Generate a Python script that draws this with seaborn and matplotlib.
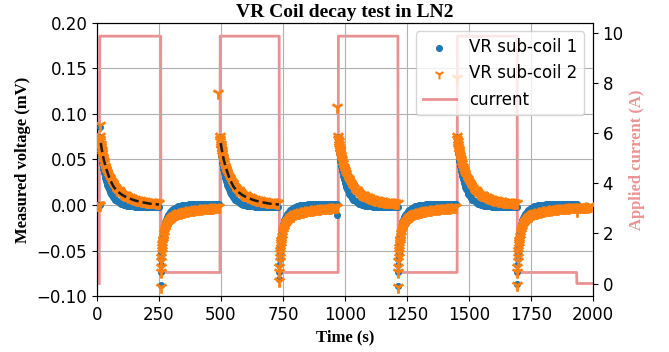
import numpy as np
import pandas as pd
import seaborn as sns
import matplotlib
matplotlib.use('Agg')
import matplotlib.pyplot as plt

# switching edges of the applied current (s)
rise_times = [12, 496, 973, 1453]
fall_times = [257, 735, 1214, 1695]
coil1_end = 1940
coil2_end = 2001

# applied current (A)
current_t = [9, 11, 257, 258, 496, 497, 735, 736, 973, 974, 1214, 1215,
             1453, 1454, 1695, 1696, 1935, 1936, 2000]
current_a = [0.0, 9.87, 9.87, 0.44, 0.44, 9.87, 9.87, 0.44, 0.44, 9.87, 9.87, 0.44,
             0.44, 9.87, 9.87, 0.44, 0.44, 0.0, 0.0]

# sample times after each edge (s): 1 s, then 2 s, 3 s and 5 s apart
decay_offsets = (list(range(0, 10)) + list(range(10, 31, 2))
                 + list(range(33, 61, 3)) + list(range(65, 301, 5)))

# decay (mV), one value per offset
pos_coil1 = [0.075, 0.071, 0.067, 0.063, 0.060, 0.057, 0.054, 0.052, 0.050, 0.048,
             0.046, 0.043, 0.040, 0.037, 0.035, 0.032, 0.030, 0.028, 0.026, 0.024, 0.022,
             0.020, 0.018, 0.016, 0.014, 0.0125, 0.011, 0.0095, 0.0085, 0.0072, 0.006,
             0.005, 0.004, 0.003, 0.0022, 0.0015, 0.001, 0.0005, 0.0,
             -0.0004, -0.0007, -0.001, -0.0012, -0.0014, -0.0015, -0.0016, -0.0017,
             -0.0018, -0.0018, -0.0019, -0.0019, -0.002, -0.002, -0.002, -0.002,
             -0.002, -0.002, -0.002, -0.002, -0.002, -0.002, -0.002, -0.002,
             -0.002, -0.002, -0.002, -0.002, -0.002, -0.002, -0.002, -0.002,
             -0.002, -0.002, -0.002, -0.002, -0.002, -0.002, -0.002, -0.002]
pos_coil2 = [0.076, 0.073, 0.070, 0.067, 0.065, 0.063, 0.061, 0.060, 0.058, 0.057,
             0.055, 0.053, 0.050, 0.048, 0.046, 0.043, 0.042, 0.040, 0.038, 0.036, 0.035,
             0.033, 0.031, 0.030, 0.028, 0.026, 0.025, 0.024, 0.022, 0.021, 0.020,
             0.019, 0.017, 0.016, 0.015, 0.013, 0.012, 0.0115, 0.011,
             0.0105, 0.010, 0.009, 0.0085, 0.008, 0.0075, 0.007, 0.0065,
             0.006, 0.0057, 0.0054, 0.005, 0.0047, 0.0045, 0.0043, 0.004,
             0.0038, 0.0037, 0.0035, 0.0034, 0.0032, 0.003, 0.0029, 0.0028,
             0.0027, 0.0026, 0.0025, 0.0025, 0.0024, 0.0024, 0.0023, 0.0023,
             0.0022, 0.0022, 0.0021, 0.0021, 0.002, 0.002, 0.002, 0.002]
neg_coil1 = [-0.074, -0.066, -0.059, -0.053, -0.048, -0.044, -0.040, -0.037, -0.034, -0.032,
             -0.030, -0.026, -0.023, -0.021, -0.019, -0.017, -0.016, -0.0145, -0.013, -0.012, -0.011,
             -0.0095, -0.0085, -0.0075, -0.0065, -0.006, -0.0052, -0.0045, -0.004, -0.0034, -0.0028,
             -0.0022, -0.0016, -0.0011, -0.0007, -0.0003, 0.0, 0.0002, 0.0003,
             0.0004, 0.0005, 0.0006, 0.0007, 0.0008, 0.0008, 0.0009, 0.0009,
             0.001, 0.001, 0.001, 0.001, 0.001, 0.001, 0.001, 0.001,
             0.001, 0.001, 0.001, 0.001, 0.001, 0.001, 0.001, 0.001,
             0.001, 0.001, 0.001, 0.001, 0.001, 0.001, 0.001, 0.001,
             0.001, 0.001, 0.001, 0.001, 0.001, 0.001, 0.001, 0.001]
neg_coil2 = [-0.074, -0.068, -0.062, -0.057, -0.053, -0.049, -0.046, -0.043, -0.041, -0.039,
             -0.037, -0.034, -0.031, -0.029, -0.027, -0.025, -0.024, -0.023, -0.021, -0.020, -0.019,
             -0.0175, -0.0165, -0.0155, -0.014, -0.0135, -0.013, -0.0125, -0.012, -0.011, -0.010,
             -0.0095, -0.009, -0.0087, -0.0083, -0.008, -0.0075, -0.0072, -0.0068,
             -0.0065, -0.0062, -0.006, -0.0057, -0.0055, -0.0052, -0.005, -0.0048,
             -0.0046, -0.0044, -0.0042, -0.004, -0.0039, -0.0037, -0.0036, -0.0035,
             -0.0034, -0.0032, -0.0031, -0.003, -0.0029, -0.0028, -0.0027, -0.0026,
             -0.0025, -0.0024, -0.0023, -0.0022, -0.0021, -0.002, -0.002, -0.0019,
             -0.0019, -0.0018, -0.0018, -0.0017, -0.0017, -0.0016, -0.0016, -0.0015]

# points before the first pulse
pre_t = [1, 3, 5, 7, 9, 11]
pre_coil1 = [0.0, 0.0, 0.0, 0.0, 0.0, 0.0]
pre_coil2 = [0.0, 0.0, 0.0, 0.0, 0.0, 0.0]

# stray points
coil1_extra_t = [12, 258, 736, 1214, 1695, 968]
coil1_extra_v = [0.086, -0.088, -0.081, -0.089, -0.087, -0.011]
coil2_extra_t = [14, 490, 970, 1453, 258, 736, 1214, 1695, 1936]
coil2_extra_v = [0.088, 0.123, 0.108, 0.140, -0.090, -0.083, -0.090, -0.088, -0.007]

# exponential fit shown on the first two pulses
fit_offsets = [3, 8, 15, 25, 40, 55, 70, 90, 110, 140, 170, 200, 238]
fit_values = [0.068, 0.060, 0.050, 0.040, 0.028, 0.020, 0.015, 0.011, 0.008,
              0.005, 0.003, 0.0015, 0.0005]
fit_pulses = [12, 496]


def build_series(pos_vals, neg_vals, pre_v, extra_t, extra_v, end):
    """stitch the read decays onto every edge"""
    t, v = list(pre_t), list(pre_v)
    next_rise = rise_times[1:] + [end]
    for start, stop in zip(rise_times, fall_times):
        for off, val in zip(decay_offsets, pos_vals):
            if start + off < stop:
                t.append(start + off)
                v.append(val)
    for start, stop in zip(fall_times, next_rise):
        for off, val in zip(decay_offsets, neg_vals):
            if start + off < stop:
                t.append(start + off)
                v.append(val)
    t += extra_t
    v += extra_v
    return pd.DataFrame({'time': t, 'voltage': v})


df1 = build_series(pos_coil1, neg_coil1, pre_coil1, coil1_extra_t, coil1_extra_v, coil1_end)
df2 = build_series(pos_coil2, neg_coil2, pre_coil2, coil2_extra_t, coil2_extra_v, coil2_end)
df_cur = pd.DataFrame({'time': current_t, 'current': current_a})

serif = ['Liberation Serif', 'DejaVu Serif']
label_red = '#eb9494'

fig, ax = plt.subplots(figsize=(6.69, 3.52), dpi=100)
fig.subplots_adjust(left=0.145, right=0.886, bottom=0.159, top=0.935)
ax2 = ax.twinx()

sns.lineplot(data=df_cur, x='time', y='current', ax=ax2, color='tab:red', alpha=0.5,
             lw=2, estimator=None, sort=False, label='current', legend=False)

sns.scatterplot(data=df1, x='time', y='voltage', ax=ax, color='tab:blue', marker='o',
                s=26, linewidth=0, label='VR sub-coil 1', legend=False, zorder=3)
sns.scatterplot(data=df2, x='time', y='voltage', ax=ax, color='tab:orange', marker='1',
                s=80, linewidth=2.0, label='VR sub-coil 2', legend=False, zorder=4)

for start in fit_pulses:
    ax.plot([start + o for o in fit_offsets], fit_values, ls='--', color='#1a1a1a',
            lw=1.8, zorder=5)

ax.set_zorder(ax2.get_zorder() + 1)
ax.patch.set_visible(False)

ax.set_xlim(0, 2000)
ax.set_ylim(-0.1, 0.2)
ax2.set_ylim(-0.5, 10.4)
ax.set_xticks([0, 250, 500, 750, 1000, 1250, 1500, 1750, 2000])
ax.set_yticks([-0.1, -0.05, 0.0, 0.05, 0.1, 0.15, 0.2])
ax2.set_yticks([0, 2, 4, 6, 8, 10])
ax.tick_params(labelsize=12)
ax2.tick_params(labelsize=12)
ax.grid(True, color='#b0b0b0', lw=0.8)

ax.set_title('VR Coil decay test in LN2', family=serif, fontweight='bold', fontsize=14, pad=4)
ax.set_xlabel('Time (s)', family=serif, fontweight='bold', fontsize=12)
ax.set_ylabel('Measured voltage (mV)', family=serif, fontweight='bold', fontsize=12)
ax2.set_ylabel('Applied current (A)', family=serif, fontweight='bold', fontsize=12,
               color=label_red)

h1, l1 = ax.get_legend_handles_labels()
h2, l2 = ax2.get_legend_handles_labels()
leg = ax.legend(h1 + h2, l1 + l2, loc='upper right', fontsize=12)
leg.legend_handles[1].set_linewidth(1.5)
leg.legend_handles[1].set_sizes([50])

fig.savefig('out.png', dpi=100)
